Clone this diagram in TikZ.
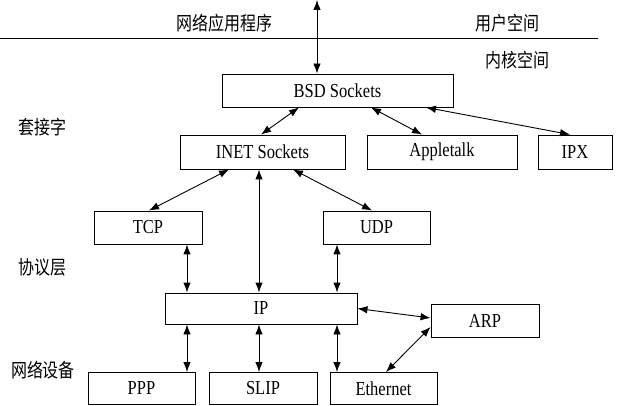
\documentclass[tikz,border=0pt]{standalone}
\usepackage{graphicx}
\usepackage{fontspec}
\setmainfont{Liberation Serif}
\newfontfamily\cjk{Noto Sans CJK SC}
\usetikzlibrary{arrows.meta,calc}
\newcommand{\tall}[1]{\scalebox{1}[1.2]{#1}}
\begin{document}
\begin{tikzpicture}[x=1pt,y=-1pt,
  box/.style={draw,line width=0.9pt,inner sep=0pt,font=\fontsize{16.5}{18}\selectfont},
  lbl/.style={inner sep=0pt,font=\cjk\fontsize{16}{18}\selectfont},
  arr/.style={{Latex[length=10pt,width=7.5pt]}-{Latex[length=10pt,width=7.5pt]},line width=0.9pt}]
\useasboundingbox (0,0) rectangle (624,406);
% labels
\node[lbl] (app) at (224,23) {\tall{网络应用程序}};
\node[lbl] (us) at (507,23) {\tall{用户空间}};
\node[lbl] (ks) at (517,60) {\tall{内核空间}};
\node[lbl] (sock) at (43,127) {\tall{套接字}};
\node[lbl] (proto) at (42,267) {\tall{协议层}};
\node[lbl] (dev) at (43,370) {\tall{网络设备}};
% divider
\coordinate (l0) at (0,38);
\coordinate (l1) at (598,38);
\draw[line width=0.9pt] (l0) -- (l1);
% boxes
\node[box,minimum width=231pt,minimum height=33pt] (bsd) at (337.5,90.5) {\tall{BSD Sockets}};
\node[box,minimum width=165pt,minimum height=34pt] (inet) at (262.5,152) {\tall{INET Sockets}};
\node[box,minimum width=150pt,minimum height=34pt] (apple) at (442,152) {\tall{Appletalk}};
\node[box,minimum width=74pt,minimum height=34pt] (ipx) at (575,152) {\tall{IPX}};
\node[box,minimum width=108pt,minimum height=33pt] (tcp) at (148,227.5) {\tall{TCP}};
\node[box,minimum width=107pt,minimum height=33pt] (udp) at (376.5,227.5) {\tall{UDP}};
\node[box,minimum width=192pt,minimum height=31pt] (ip) at (261,308.5) {\tall{IP}};
\node[box,minimum width=108pt,minimum height=33pt] (arp) at (485,320.5) {\tall{ARP}};
\node[box,minimum width=107pt,minimum height=32pt] (ppp) at (141.5,388.5) {\tall{PPP}};
\node[box,minimum width=108pt,minimum height=32pt] (slip) at (263,388.5) {\tall{SLIP}};
\node[box,minimum width=107pt,minimum height=32pt] (eth) at (383.5,388.5) {\tall{Ethernet}};
% connectors
\coordinate (top) at (317,0);
\draw[arr] (top) -- (top |- bsd.north);
\draw[arr] ([xshift=-38.5pt]bsd.south) -- ([xshift=-1.5pt]inet.north);
\draw[arr] ([xshift=33.5pt]bsd.south) -- ([xshift=-20pt]apple.north);
\draw[arr] ([xshift=88.5pt]bsd.south) -- ([xshift=-5pt]ipx.north);
\draw[arr] ([xshift=-33.5pt]inet.south) -- ([xshift=1pt]tcp.north);
\draw[arr] ([xshift=30.5pt]inet.south) -- ([xshift=-4.5pt]udp.north);
\draw[arr] ([xshift=-3.5pt]inet.south) -- ([xshift=-3.5pt]inet.south |- ip.north);
\draw[arr] ([xshift=39pt]tcp.south) -- ([xshift=39pt]tcp.south |- ip.north);
\draw[arr] ([xshift=-39.5pt]udp.south) -- ([xshift=-39.5pt]udp.south |- ip.north);
\draw[arr] (ip.east) -- ([yshift=2.5pt]arp.west);
\draw[arr] ([yshift=-6.5pt]arp.west) -- ([xshift=2.5pt]eth.north);
\draw[arr] ([xshift=-74pt]ip.south) -- ([xshift=-74pt]ip.south |- ppp.north);
\draw[arr] ([xshift=-2pt]ip.south) -- ([xshift=-2pt]ip.south |- slip.north);
\draw[arr] ([xshift=76pt]ip.south) -- ([xshift=76pt]ip.south |- eth.north);
\end{tikzpicture}
\end{document}
